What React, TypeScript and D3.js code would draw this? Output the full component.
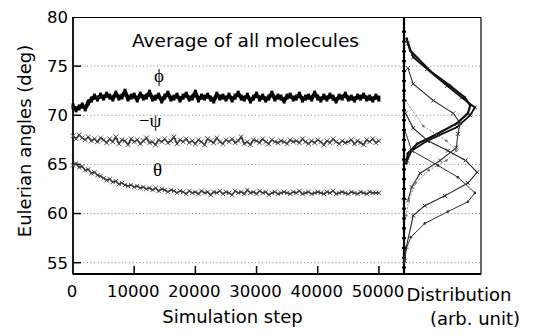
import React from "react";
import * as d3 from "d3";

const STEP = 500;
const phiValues = [
  70.9, 70.6, 70.8, 71.0, 70.7, 71.3, 71.6, 71.9, 71.7, 72.0,
  71.8, 72.1, 71.9, 71.7, 72.2, 71.8, 71.9, 72.4, 71.7, 71.9,
  72.0, 71.6, 72.1, 71.8, 71.9, 72.3, 71.7, 71.8, 72.0, 71.5,
  71.9, 72.2, 71.7, 71.8, 72.0, 71.6, 71.9, 72.1, 71.7, 71.8,
  72.3, 71.6, 71.9, 71.8, 72.0, 71.7, 71.5, 72.1, 71.8, 71.9,
  71.7, 72.0, 71.6, 71.9, 72.2, 71.8, 71.7, 72.0, 71.5, 71.8,
  72.1, 71.7, 71.9, 71.6, 71.8, 72.2, 71.7, 71.9, 71.8, 71.5,
  71.9, 72.0, 71.7, 71.8, 72.1, 71.6, 71.8, 71.9, 71.7, 72.2,
  71.8, 71.6, 71.9, 71.7, 72.0, 71.8, 71.5, 71.9, 71.8, 72.1,
  71.7, 71.8, 71.6, 71.9, 71.8, 72.0, 71.7, 71.8, 71.6, 71.9,
  71.7,
];
const psiValues = [
  67.9, 67.6, 68.0, 67.7, 67.5, 67.8, 67.4, 67.6, 67.3, 67.7,
  67.5, 67.2, 67.6, 67.3, 67.8, 67.1, 67.5, 67.4, 67.0, 67.6,
  67.3, 67.5, 67.1, 67.4, 67.7, 67.2, 67.3, 67.0, 67.5, 67.3,
  67.6, 67.2, 67.4, 67.8, 67.1, 67.5, 67.3, 67.6, 67.2, 67.4,
  67.1, 67.5, 67.3, 67.0, 67.6, 67.4, 67.2, 67.7, 67.3, 67.1,
  67.5, 67.3, 67.6, 67.2, 67.4, 67.8, 67.1, 67.3, 67.0, 67.5,
  67.4, 67.2, 67.6, 67.3, 67.1, 67.5, 67.3, 67.2, 67.4, 67.3,
  67.1, 67.5, 67.3, 67.4, 67.2, 67.6, 67.3, 67.1, 67.4, 67.2,
  67.5, 67.3, 67.0, 67.4, 67.2, 67.6, 67.3, 67.1, 67.4, 67.2,
  67.3, 67.5, 67.1, 67.4, 67.2, 67.0, 67.5, 67.3, 67.6, 67.2,
  67.4,
];
const thetaValues = [
  64.9, 65.1, 64.7, 64.8, 64.4, 64.5, 64.1, 64.2, 63.9, 63.8,
  63.6, 63.4, 63.5, 63.2, 63.3, 63.0, 63.1, 62.9, 62.8, 62.9,
  62.7, 62.8, 62.6, 62.7, 62.5, 62.6, 62.4, 62.6, 62.3, 62.5,
  62.4, 62.2, 62.4, 62.3, 62.1, 62.3, 62.2, 62.0, 62.3, 62.1,
  62.2, 62.0, 62.3, 62.1, 62.2, 61.9, 62.2, 62.1, 62.3, 62.0,
  62.2, 62.1, 61.9, 62.3, 62.1, 62.2, 62.0, 62.4, 62.1, 62.2,
  62.0, 62.3, 62.1, 62.2, 61.9, 62.1, 62.2, 62.0, 62.1, 62.2,
  62.1, 62.0, 62.2, 62.1, 62.3, 62.0, 62.1, 62.2, 62.0, 62.1,
  62.2, 62.1, 62.0, 62.2, 62.1, 62.3, 62.0, 62.1, 62.2, 62.1,
  62.0, 62.2, 62.1, 62.0, 62.2, 62.1, 62.0, 62.2, 62.1, 62.1,
  62.1,
];

const xTicks = [0, 10000, 20000, 30000, 40000, 50000];
const yTicks = [55, 60, 65, 70, 75, 80];

// distribution curves: [angle, density]
const distPhiA: [number, number][] = [
  [77.8, 0.035], [76.6, 0.08], [74.5, 0.34], [73.0, 0.6], [71.8, 0.79], [71.0, 0.86],
  [70.2, 0.83], [69.2, 0.69], [68.1, 0.43], [67.1, 0.17], [66.1, 0.05], [65.1, 0.03],
];
const distPhiB: [number, number][] = [
  [77.3, 0.05], [75.9, 0.12], [74.7, 0.3], [73.0, 0.56], [71.8, 0.75], [70.8, 0.92],
  [70.0, 0.86], [68.8, 0.69], [67.4, 0.3], [66.4, 0.1], [65.4, 0.04],
];
const distPsi: [number, number][] = [
  [74.8, 0.05], [73.2, 0.12], [71.5, 0.38], [70.2, 0.64], [69.2, 0.73], [68.1, 0.7],
  [66.7, 0.68], [65.4, 0.47], [64.1, 0.21], [62.7, 0.1], [61.3, 0.05],
];
const distPsi2: [number, number][] = [
  [71.5, 0.02], [68.9, 0.25], [67.4, 0.55], [66.4, 0.68], [65.4, 0.55], [64.4, 0.32],
  [63.1, 0.15], [61.3, 0.06], [59.8, 0.03],
];
const distTheta: [number, number][] = [
  [70.2, 0.02], [68.7, 0.12], [67.4, 0.31], [66.4, 0.57], [65.4, 0.8], [64.2, 0.95],
  [63.1, 0.83], [61.8, 0.53], [60.8, 0.27], [59.8, 0.12], [56.6, 0.03], [55.2, 0.01],
];
const distTheta2: [number, number][] = [
  [68.5, 0.01], [66.4, 0.1], [64.9, 0.44], [63.7, 0.7], [62.1, 0.92], [61.2, 0.83],
  [60.2, 0.57], [59.0, 0.27], [57.6, 0.09], [56.3, 0.02], [55.0, 0.0],
];

export default function App() {
  const x = d3.scaleLinear().domain([0, 54100]).range([73, 404]);
  const y = d3.scaleLinear().domain([53.9, 80]).range([273.5, 17]);
  const dx = d3.scaleLinear().domain([0, 1]).range([404, 481]);

  const toPts = (vals: number[]) => vals.map((v, i) => [i * STEP, v] as [number, number]);
  const line = d3.line<[number, number]>().x((d) => x(d[0])).y((d) => y(d[1]));
  const dline = d3.line<[number, number]>().x((d) => dx(d[1])).y((d) => y(d[0]));

  const phi = toPts(phiValues);
  const psi = toPts(psiValues);
  const theta = toPts(thetaValues);

  const cross = (cx: number, cy: number, s: number, key: string, color: string, w = 1) => (
    <path key={key} d={`M${cx - s},${cy - s}L${cx + s},${cy + s}M${cx - s},${cy + s}L${cx + s},${cy - s}`} stroke={color} strokeWidth={w} fill="none" />
  );

  const sans = "DejaVu Sans, Verdana, sans-serif";
  const serif = "Liberation Serif, Times New Roman, serif";

  const dists: { data: [number, number][]; w: number; color: string; mark: "x" | "dot"; dash?: string }[] = [
    { data: distPhiA, w: 2.2, color: "#111", mark: "dot" },
    { data: distPhiB, w: 1.8, color: "#111", mark: "x" },
    { data: distPsi, w: 1.1, color: "#333", mark: "x" },
    { data: distPsi2, w: 0.9, color: "#777", mark: "dot", dash: "2,1.5" },
    { data: distTheta, w: 1.1, color: "#222", mark: "x" },
    { data: distTheta2, w: 1.0, color: "#333", mark: "dot" },
  ];

  const axisDots = d3.range(54.5, 79.5, 1.0);

  return (
    <svg width={534} height={334} style={{ position: "absolute", left: 0, top: 0, background: "#fff" }}>
      <rect x={0} y={0} width={534} height={334} fill="#fff" />
      {/* gridlines */}
      {yTicks.filter((t) => t < 80).map((t) => (
        <line key={"g" + t} x1={x(0)} x2={dx(1)} y1={y(t)} y2={y(t)} stroke="#777" strokeWidth={0.9} strokeDasharray="1,2.5" />
      ))}
      {/* y ticks */}
      {yTicks.filter((t) => t < 80).map((t) => (
        <line key={"yt" + t} x1={x(0)} x2={x(0) + 8} y1={y(t)} y2={y(t)} stroke="#000" strokeWidth={1.5} />
      ))}
      {/* x ticks */}
      {xTicks.filter((t) => t > 0).map((t) => (
        <line key={"xt" + t} x1={x(t)} x2={x(t)} y1={273.5} y2={266} stroke="#000" strokeWidth={1.5} />
      ))}
      {/* frames */}
      <line x1={x(0)} x2={x(0)} y1={17} y2={274.5} stroke="#000" strokeWidth={1.8} />
      <line x1={x(0)} x2={dx(1)} y1={274} y2={274} stroke="#000" strokeWidth={2} />
      <line x1={x(0)} x2={dx(1)} y1={17.5} y2={17.5} stroke="#000" strokeWidth={1.2} />
      <line x1={dx(1)} x2={dx(1)} y1={17.5} y2={274.5} stroke="#000" strokeWidth={1.2} />
      <line x1={dx(0)} x2={dx(0)} y1={17} y2={275} stroke="#000" strokeWidth={2.2} />

      {/* theta */}
      <path d={line(theta) || ""} fill="none" stroke="#333" strokeWidth={1.6} />
      {theta.map((p, i) => cross(x(p[0]), y(p[1]), 2.2, "th" + i, "#444", 0.9))}
      {/* psi */}
      <path d={line(psi) || ""} fill="none" stroke="#333" strokeWidth={1.6} />
      {psi.map((p, i) => cross(x(p[0]), y(p[1]), 2.4, "ps" + i, "#444", 0.9))}
      {/* phi */}
      <path d={line(phi) || ""} fill="none" stroke="#000" strokeWidth={4} strokeLinejoin="round" />
      {phi.map((p, i) => (
        <rect key={"ph" + i} x={x(p[0]) - 1.5} y={y(p[1]) - 3} width={3} height={6} fill="#000" />
      ))}

      {/* distributions */}
      {dists.map((c, ci) => (
        <g key={"d" + ci}>
          <path d={dline(c.data) || ""} fill="none" stroke={c.color} strokeWidth={c.w} strokeDasharray={c.dash} />
          {c.data.map((p, i) =>
            c.mark === "x" ? (
              cross(dx(p[1]), y(p[0]), 2, `dm${ci}-${i}`, c.color, 0.9)
            ) : (
              <circle key={`dm${ci}-${i}`} cx={dx(p[1])} cy={y(p[0])} r={1.3} fill={c.color} />
            )
          )}
        </g>
      ))}
      {axisDots.map((v, i) => (
        <rect key={"ad" + i} x={dx(0) - 2} y={y(v) - 1} width={4} height={2} fill="#000" />
      ))}

      {/* tick labels */}
      {yTicks.map((t) => (
        <text key={"yl" + t} x={68} y={y(t)} dy="0.36em" textAnchor="end" fontFamily={sans} fontSize={16.5} fill="#000">
          {t}
        </text>
      ))}
      {xTicks.map((t) => (
        <text key={"xl" + t} x={t === 0 ? 72 : x(t) - 1} y={297} textAnchor="middle" fontFamily={sans} fontSize={16.5} fill="#000">
          {t}
        </text>
      ))}

      {/* titles */}
      <text x={245.5} y={47} textAnchor="middle" fontFamily={sans} fontSize={18.5} fill="#000">Average of all molecules</text>
      <text x={232.5} y={323} textAnchor="middle" fontFamily={sans} fontSize={18} fill="#000">Simulation step</text>
      <text transform="translate(31,141) rotate(-90)" textAnchor="middle" fontFamily={sans} fontSize={18} fill="#000">Eulerian angles (deg)</text>
      <text x={459} y={301} textAnchor="middle" fontFamily={sans} fontSize={18} fill="#000">Distribution</text>
      <text x={475} y={325} textAnchor="middle" fontFamily={sans} fontSize={18} fill="#000">(arb. unit)</text>

      {/* series labels */}
      <text x={159} y={82} textAnchor="middle" fontFamily={serif} fontSize={19} fill="#000">ϕ</text>
      <text x={150} y={127} textAnchor="middle" fontFamily={serif} fontSize={19} fill="#000">−ψ</text>
      <text x={157.5} y={176} textAnchor="middle" fontFamily={serif} fontSize={19} fill="#000">θ</text>
    </svg>
  );
}
